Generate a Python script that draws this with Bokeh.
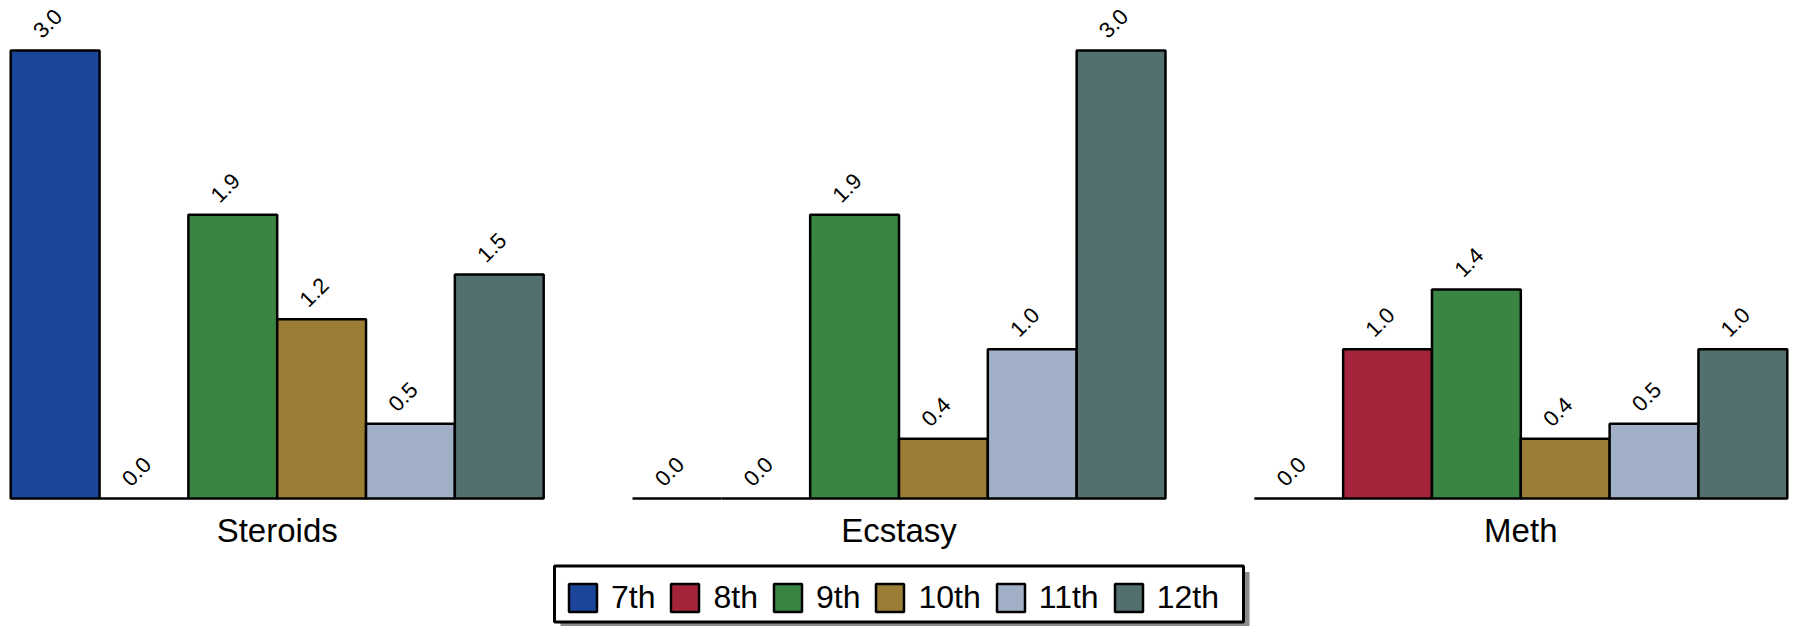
import math
from bokeh.plotting import figure
from bokeh.models import ColumnDataSource, FactorRange, Range1d, Legend, LegendItem, BoxAnnotation
from bokeh.core.properties import value
from bokeh.embed import file_html
from bokeh.resources import INLINE

# ---- data ----
categories = ["Steroids", "Ecstasy", "Meth"]
grades = ["7th", "8th", "9th", "10th", "11th", "12th"]
steroids = [3.0, 0.0, 1.9, 1.2, 0.5, 1.5]
ecstasy = [0.0, 0.0, 1.9, 0.4, 1.0, 3.0]
meth = [0.0, 1.0, 1.4, 0.4, 0.5, 1.0]
grade_colors = ["#1b4599", "#a4253b", "#3a8542", "#9c7d35", "#a2b0c7", "#53706f"]

series = {"Steroids": steroids, "Ecstasy": ecstasy, "Meth": meth}

xs, tops, cols, labs = [], [], [], []
for c in categories:
    for g, v, col in zip(grades, series[c], grade_colors):
        xs.append((c, g))
        tops.append(v)
        cols.append(col)
        labs.append(f"{v:.1f}")

src = ColumnDataSource(dict(x=xs, top=tops, color=cols, label=labs))

W, H = 1797, 626
FONT = "Liberation Sans"

x_range = FactorRange(*xs, factor_padding=0.0, group_padding=1.0,
                      range_padding=0.115, range_padding_units="absolute")
y_range = Range1d(-0.8571, 3.3348)

p = figure(width=W, height=H, x_range=x_range, y_range=y_range,
           output_backend="svg", toolbar_location=None,
           x_axis_location=None, y_axis_location=None,
           min_border=0, outline_line_color=None)
p.grid.visible = False
p.background_fill_color = "white"
p.border_fill_color = "white"

bars = p.vbar(x="x", top="top", bottom=0, width=1.0, source=src,
              fill_color="color", line_color="black", line_width=2.5)

p.text(x="x", y="top", text="label", source=src, angle=math.pi / 4,
       text_align="center", text_baseline="middle",
       x_offset=-7.5, y_offset=-27,
       text_font=value(FONT), text_font_size="22px", text_color="black")

cat_src = ColumnDataSource(dict(x=categories, y=[-0.217] * len(categories)))
p.text(x="x", y="y", text="x", source=cat_src, text_align="center",
       text_baseline="alphabetic", text_font=value(FONT),
       text_font_size="33px", text_color="black")

# legend frame: shadow + white box (screen units, y measured from the bottom)
shadow = BoxAnnotation(left=560, right=1249, bottom=-2, top=54.5,
                       left_units="screen", right_units="screen",
                       bottom_units="screen", top_units="screen",
                       fill_color="#8c8c8c", fill_alpha=1.0,
                       line_color=None, level="annotation")
p.add_layout(shadow)
box = BoxAnnotation(left=554, right=1243, bottom=4.5, top=60.5,
                    left_units="screen", right_units="screen",
                    bottom_units="screen", top_units="screen",
                    fill_color="white", fill_alpha=1.0,
                    line_color="black", line_alpha=1.0, line_width=3,
                    level="annotation")
p.add_layout(box)

legend = Legend(items=[LegendItem(label=g, renderers=[bars], index=i)
                       for i, g in enumerate(grades)],
                location=(565, 10), orientation="horizontal",
                glyph_width=35, glyph_height=35, label_standoff=11,
                spacing=12, padding=0, margin=0,
                label_text_font=FONT, label_text_font_size="32px",
                label_text_color="black",
                border_line_color=None,
                background_fill_alpha=0.0)
p.add_layout(legend)

open("out.html", "w").write(file_html(p, INLINE))
